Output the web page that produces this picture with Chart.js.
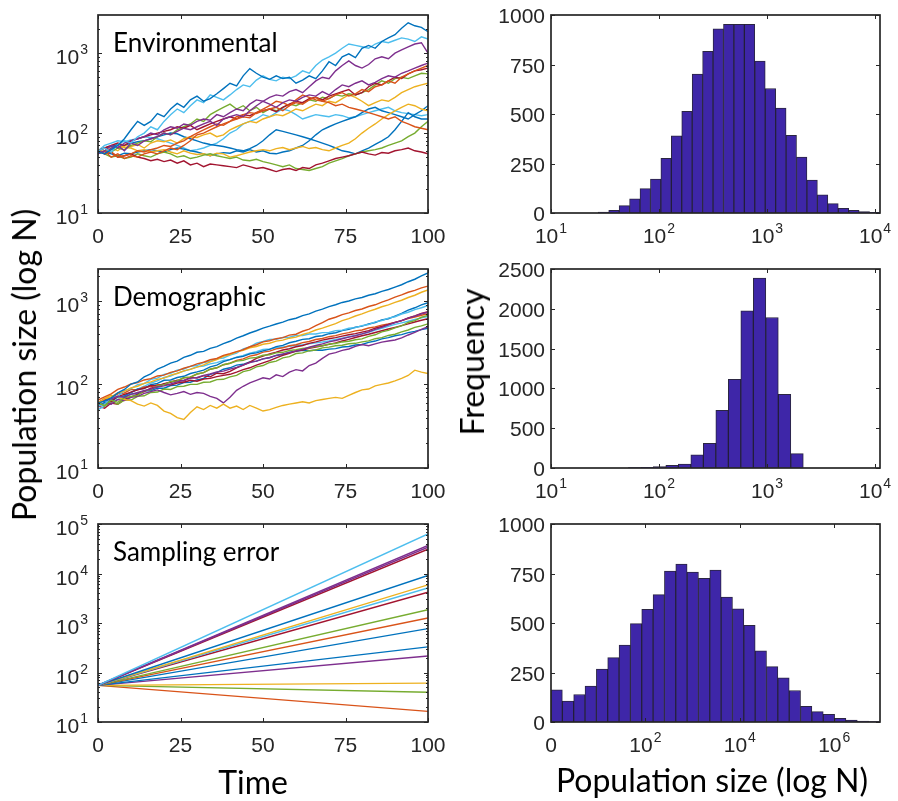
<!DOCTYPE html>
<html>
<head>
<meta charset="utf-8">
<script src="https://cdn.jsdelivr.net/npm/chart.js@4.4.1/dist/chart.umd.min.js"></script>
<style>
  html, body { margin: 0; padding: 0; background: #fff; }
  #fig { position: relative; width: 898px; height: 801px; overflow: hidden; }
  #fig canvas { position: absolute; }
  .lab { position: absolute; font-family: Lato, "Open Sans", sans-serif; font-size: 32px; color: #000;
         white-space: nowrap; line-height: 1; transform: translate(-50%, -50%); }
  .rot { transform: translate(-50%, -50%) rotate(-90deg); }
</style>
</head>
<body>
<div id="fig">
  <canvas id="env"  width="450" height="250" style="left:0;top:0"></canvas>
  <canvas id="demo" width="450" height="255" style="left:0;top:250px"></canvas>
  <canvas id="samp" width="450" height="260" style="left:0;top:505px"></canvas>
  <canvas id="hEnv"  width="438" height="250" style="left:460px;top:0"></canvas>
  <canvas id="hDemo" width="438" height="255" style="left:460px;top:250px"></canvas>
  <canvas id="hSamp" width="438" height="260" style="left:460px;top:505px"></canvas>
  <div class="lab rot" style="left:24px;top:365px">Population size (log N)</div>
  <div class="lab rot" style="left:472px;top:362px">Frequency</div>
  <div class="lab" style="left:253px;top:782px">Time</div>
  <div class="lab" style="left:712px;top:780px">Population size (log N)</div>
</div>
<script>
// ---------- data ----------
const timeSteps = [0,2,4,6,8,10,12,14,16,18,20,22,24,26,28,30,32,34,36,38,40,42,44,46,48,50,
  52,54,56,58,60,62,64,66,68,70,72,74,76,78,80,82,84,86,88,90,92,94,96,98,100];
const timeTicks = [0, 25, 50, 75, 100];
const timeTickLabels = ['0', '25', '50', '75', '100'];

// environmental stochasticity runs (N at each time step)
const envRuns = [
  [58,55,62,70,85,110,140,125,140,175,160,200,235,210,260,290,250,270,310,360,420,390,520,640,560,500,470,520,480,500,420,460,520,480,600,780,700,900,980,880,1150,1250,1150,1400,1550,1700,2050,2400,2200,2100,1850],
  [60,65,58,72,80,75,90,100,120,110,140,170,200,180,220,260,240,300,280,260,300,350,400,380,460,520,470,450,500,480,520,600,560,700,820,900,1000,1150,1300,1250,1200,1150,1300,1400,1350,1450,1550,1500,1400,1600,1500],
  [55,60,70,65,75,80,85,90,100,95,110,120,115,130,125,140,150,145,170,160,180,200,190,230,260,250,280,300,290,330,350,320,380,450,500,480,600,700,800,700,650,720,850,900,850,1000,1100,1200,1300,1350,1000],
  [60,55,65,70,60,75,70,80,85,90,100,95,105,115,110,120,130,140,125,150,160,170,160,190,220,250,230,210,240,260,250,280,300,290,330,300,350,400,380,420,450,400,430,480,520,500,560,600,650,700,750],
  [55,60,50,55,48,52,50,55,58,55,60,65,62,70,80,95,100,110,120,130,140,150,160,155,180,200,220,250,240,220,260,300,280,260,250,240,220,230,210,200,190,180,170,160,150,160,140,130,120,115,110],
  [60,55,58,50,52,55,60,58,62,65,70,68,75,80,90,100,110,120,130,125,140,160,170,180,175,190,200,210,190,220,240,230,260,280,250,270,300,320,290,310,350,330,380,400,450,420,500,550,600,650,700],
  [60,65,70,75,70,80,85,90,95,100,105,110,120,115,125,110,120,130,140,150,160,150,170,165,180,190,200,185,210,230,250,240,270,280,260,290,310,330,350,300,320,380,420,400,450,500,480,550,600,620,650],
  [60,55,58,50,52,55,50,48,45,47,44,46,42,45,40,42,38,41,40,39,38,37,40,38,36,37,35,33,35,36,34,37,36,40,42,45,48,50,52,55,58,55,53,57,56,60,62,65,60,58,55],
  [55,60,58,65,62,70,75,80,78,90,100,95,110,120,130,150,140,170,190,210,230,200,220,190,210,180,200,190,210,230,220,240,260,250,280,270,300,290,310,300,320,350,400,450,420,480,500,480,520,560,550],
  [60,55,50,52,48,50,55,52,50,55,58,55,50,52,48,50,53,55,52,50,48,50,46,45,47,44,42,40,38,40,36,35,34,36,38,42,45,48,52,55,58,60,62,65,70,75,80,90,100,120,140],
  [62,58,65,60,70,68,72,65,75,80,78,82,75,85,90,88,95,100,90,95,110,120,130,140,135,150,160,170,165,180,200,190,210,230,220,250,240,270,300,280,250,220,240,260,250,280,320,350,380,400,420],
  [60,65,62,70,66,65,60,62,58,60,62,58,55,60,56,54,55,52,56,55,50,52,55,58,60,62,60,64,66,62,65,68,64,66,62,60,65,70,75,85,100,115,130,150,170,190,210,230,220,200,190],
  [60,58,55,52,56,55,58,60,62,60,58,62,65,63,60,58,55,52,55,57,56,60,58,62,58,60,56,55,58,60,65,70,80,95,110,120,130,140,150,160,180,200,210,190,180,170,160,150,170,190,220],
  [60,65,68,72,70,75,78,80,85,90,95,100,98,90,85,80,75,72,70,68,65,62,60,64,70,80,95,110,105,100,95,90,85,80,75,70,65,60,58,55,60,65,72,80,90,110,140,180,160,150,150],
  [60,70,75,80,78,82,85,90,88,85,80,75,70,65,60,62,65,70,75,85,100,110,130,140,150,170,160,180,200,190,170,150,160,170,165,160,170,165,155,160,170,180,190,200,210,190,180,175,170,165,170]
];

// demographic stochasticity runs
const demoRuns = [
  [60,63,69,79,87,101,107,123,134,152,164,180,190,210,223,242,248,270,283,307,328,358,382,412,438,472,498,528,556,594,618,664,698,754,796,852,896,955,995,1055,1095,1165,1215,1295,1365,1455,1555,1690,1810,1990,2150],
  [65,71,77,87,93,101,105,113,117,126,129,139,145,156,164,176,184,197,204,222,233,247,260,282,298,322,333,352,363,388,398,432,458,503,548,602,636,684,716,765,798,855,896,965,1025,1105,1175,1265,1335,1425,1500],
  [60,67,71,79,83,91,95,103,107,115,119,129,135,145,151,161,171,186,198,217,228,245,255,274,284,302,311,329,339,357,368,395,416,447,470,502,532,578,612,658,698,748,792,848,892,955,1015,1095,1165,1265,1350],
  [60,64,67,72,70,76,80,84,88,93,96,101,107,112,118,121,128,133,141,144,152,160,170,182,190,202,210,222,232,240,252,262,278,292,305,322,335,352,368,382,402,425,455,480,515,548,580,620,655,700,730],
  [60,56,65,61,69,72,74,84,86,96,99,108,110,120,122,133,138,152,158,172,179,190,194,206,210,223,226,238,242,254,260,270,274,286,290,304,308,322,328,342,350,375,392,424,442,475,500,550,580,635,670],
  [55,58,69,72,84,89,99,102,115,119,132,136,148,153,165,168,183,188,203,207,224,236,266,281,312,326,345,346,364,366,384,384,400,400,416,418,440,446,470,478,505,520,560,580,620,645,695,730,785,825,880],
  [60,66,62,72,76,81,86,90,97,96,102,106,112,110,122,119,127,123,136,134,143,158,170,185,205,218,232,243,258,267,282,292,310,322,338,352,362,378,392,405,422,440,470,492,520,552,580,625,660,705,740],
  [55,61,63,71,73,80,88,89,99,103,112,113,121,125,135,141,148,162,170,187,198,210,216,232,238,252,262,283,293,315,328,345,352,374,382,404,415,440,455,482,498,528,550,590,610,655,705,775,825,895,950],
  [60,67,69,77,79,87,86,93,94,99,100,108,110,120,122,133,138,152,158,172,179,194,202,218,226,243,250,266,274,290,298,316,326,344,354,372,383,402,416,436,448,472,488,512,528,552,578,612,638,672,700],
  [60,68,74,70,66,64,58,55,60,56,48,45,40,38,46,54,50,56,52,58,52,55,50,56,52,48,50,53,56,58,60,62,60,64,66,68,70,68,74,80,86,88,96,100,104,110,118,128,148,140,135],
  [55,60,58,66,64,70,72,78,82,86,80,75,78,82,76,80,78,72,68,60,70,85,95,104,112,120,116,130,124,140,150,145,168,180,205,230,240,255,265,285,300,290,305,320,330,340,360,390,420,455,490],
  [60,55,63,58,65,65,72,73,80,81,88,87,94,95,100,100,106,107,114,115,123,128,142,148,162,168,183,190,208,215,234,238,253,258,273,279,290,294,306,310,323,332,352,362,385,398,425,447,480,502,530],
  [50,55,62,66,74,79,88,95,104,110,121,126,136,144,152,162,166,176,182,194,199,212,222,236,246,262,266,274,280,286,292,298,306,314,322,332,344,358,372,386,402,420,446,470,496,522,545,570,598,625,650],
  [55,52,60,58,66,71,76,82,90,94,101,98,104,106,112,109,116,118,124,128,132,140,150,158,170,181,192,208,222,236,251,258,270,280,290,301,314,330,346,364,382,398,418,438,460,481,505,530,558,585,610],
  [60,64,65,71,71,77,77,84,84,90,90,97,98,105,106,113,118,132,138,152,158,170,174,186,190,202,208,222,228,242,248,255,252,258,256,264,268,280,284,296,300,318,330,350,362,382,394,416,430,452,470]
];

// sampling error: straight exponential runs from a common start
const samplingTimes = [0, 100];
const samplingStart = 55;
const samplingEnd = [63000, 37000, 34000, 31000, 9100, 5900, 5100, 4200, 1860, 1260, 770, 330, 215, 61, 40, 16.4];

// histograms: bin centres in log10(N), counts
const hEnvBins = [1.4860,1.5826,1.6792,1.7758,1.8724,1.9690,2.0656,2.1622,2.2588,2.3554,2.4520,2.5486,2.6452,
  2.7418,2.8384,2.9350,3.0316,3.1282,3.2248,3.3214,3.4180,3.5146,3.6112,3.7078,3.8044,3.9010,3.9976];
const hEnvCounts = [5,13,37,71,123,171,276,390,514,701,817,930,953,953,953,767,629,530,392,282,166,92,47,24,13,7,3];
const hDemoBins = [1.7739,1.8896,2.0053,2.1210,2.2367,2.3524,2.4681,2.5838,2.6995,2.8152,2.9309,3.0466,3.1623,3.2780];
const hDemoCounts = [4,8,17,34,50,164,311,723,1113,1975,2387,1891,924,181];
const hSampBins = [0.1202,0.3605,0.6008,0.8411,1.0814,1.3217,1.5620,1.8023,2.0426,2.2829,2.5232,2.7635,3.0038,
  3.2441,3.4844,3.7247,3.9650,4.2053,4.4456,4.6859,4.9262,5.1665,5.4068,5.6471,5.8874,6.1277,6.3680,6.6083,6.8486];
const hSampCounts = [163,106,139,181,267,325,388,497,569,643,762,797,757,725,767,631,572,488,359,280,223,159,79,52,39,18,10,5,2];

// tick values / labels
const logTicks = [10, 100, 1000];
const logTickLabels = ['10^1', '10^2', '10^3'];
const logTicksWide = [10, 100, 1000, 10000, 100000];
const logTickLabelsWide = ['10^1', '10^2', '10^3', '10^4', '10^5'];
const sizeTicks = [1, 2, 3, 4];
const sizeTickLabels = ['10^1', '10^2', '10^3', '10^4'];
const sizeTicksWide = [0, 2, 4, 6];
const sizeTickLabelsWide = ['0', '10^2', '10^4', '10^6'];
const freqTicks = [0, 250, 500, 750, 1000];
const freqTicksDemo = [0, 500, 1000, 1500, 2000, 2500];

// ---------- styling ----------
const C = { blue: '#0072BD', orange: '#D95319', yellow: '#EDB120', purple: '#7E2F8E',
            green: '#77AC30', cyan: '#4DBEEE', red: '#A2142F' };
const envColors = [C.blue, C.cyan, C.purple, C.purple, C.orange, C.orange, C.red, C.red,
                   C.green, C.green, C.yellow, C.yellow, C.blue, C.blue, C.cyan];
const demoColors = [C.blue, C.orange, C.yellow, C.purple, C.green, C.cyan, C.red,
                    C.blue, C.orange, C.yellow, C.purple, C.green, C.cyan, C.red, C.blue];
const sampColors = [C.cyan, C.purple, C.purple, C.red, C.blue, C.yellow, C.cyan, C.red,
                    C.green, C.orange, C.blue, C.blue, C.purple, C.yellow, C.green, C.orange];
const INK = '#262626';
const BAR = '#3E26A8';
const TICK_PX = 21, EXP_PX = 14;
const TICK_FONT = 'Arial, "Liberation Sans", sans-serif';

function minorLog(min, max) {
  const out = [];
  for (let d = 10; d <= 1e6; d *= 10)
    for (let k = 2; k <= 9; k++) if (k * d > min && k * d < max) out.push(k * d);
  return out;
}

// draws "10^3" as 10 with a raised exponent
function tickText(ctx, txt, x, y, align) {
  const [base, exp] = txt.split('^');
  ctx.font = TICK_PX + 'px ' + TICK_FONT;
  const wb = ctx.measureText(base).width;
  let we = 0;
  if (exp) { ctx.font = EXP_PX + 'px ' + TICK_FONT; we = ctx.measureText(exp).width + 1; }
  const x0 = align === 'center' ? x - (wb + we) / 2 : x - wb - we;
  ctx.textAlign = 'left';
  ctx.textBaseline = 'alphabetic';
  ctx.font = TICK_PX + 'px ' + TICK_FONT;
  ctx.fillText(base, x0, y);
  if (exp) { ctx.font = EXP_PX + 'px ' + TICK_FONT; ctx.fillText(exp, x0 + wb + 1, y - 10); }
}

// matlab-like box: inside ticks on all sides, labels, panel note
function boxAxes(spec) {
  return {
    id: 'boxAxes',
    afterDatasetsDraw(chart) {
      const { ctx, chartArea: a, scales: { x, y } } = chart;
      ctx.save();
      ctx.strokeStyle = INK;
      ctx.fillStyle = INK;
      ctx.lineWidth = 1;
      ctx.beginPath();
      spec.xTicks.forEach(v => {
        const p = Math.round(x.getPixelForValue(v)) + 0.5;
        ctx.moveTo(p, a.bottom); ctx.lineTo(p, a.bottom - 4);
        ctx.moveTo(p, a.top); ctx.lineTo(p, a.top + 4);
      });
      spec.yTicks.forEach(v => {
        const p = Math.round(y.getPixelForValue(v)) + 0.5;
        ctx.moveTo(a.left, p); ctx.lineTo(a.left + 4, p);
        ctx.moveTo(a.right, p); ctx.lineTo(a.right - 4, p);
      });
      (spec.yMinor || []).forEach(v => {
        const p = Math.round(y.getPixelForValue(v)) + 0.5;
        ctx.moveTo(a.left, p); ctx.lineTo(a.left + 2, p);
        ctx.moveTo(a.right, p); ctx.lineTo(a.right - 2, p);
      });
      ctx.stroke();
      ctx.lineWidth = 1.7;
      ctx.strokeRect(a.left, a.top, a.right - a.left, a.bottom - a.top);

      spec.xTicks.forEach((v, i) =>
        tickText(ctx, spec.xLabels[i], x.getPixelForValue(v), a.bottom + 30, 'center'));
      spec.yTicks.forEach((v, i) => {
        const lab = spec.yLabels[i];
        const off = lab.includes('^') ? 11 : 8;
        tickText(ctx, lab, a.left - (lab.includes('^') ? 10 : 6), y.getPixelForValue(v) + off, 'right');
      });
      if (spec.note) {
        ctx.fillStyle = '#000';
        ctx.font = '26px Lato, "Open Sans", sans-serif';
        ctx.textAlign = 'left';
        ctx.fillText(spec.note, a.left + 15, a.top + 37);
      }
      ctx.restore();
    }
  };
}

const hidden = { grid: { display: false }, border: { display: false }, ticks: { display: false } };

function runChart(id, times, runs, colors, yMax, padTop, xH, spec) {
  new Chart(document.getElementById(id), {
    type: 'line',
    data: {
      datasets: runs.map((r, i) => ({
        data: r.map((v, j) => ({ x: times[j], y: v })),
        borderColor: colors[i], borderWidth: 1.4, pointRadius: 0, tension: 0, fill: false
      }))
    },
    options: {
      responsive: false, animation: false, events: [],
      layout: { padding: { top: padTop, right: 22, left: 0, bottom: 0 } },
      plugins: { legend: { display: false }, tooltip: { enabled: false } },
      scales: {
        x: { ...hidden, type: 'linear', min: 0, max: 100, afterFit: s => { s.height = xH; } },
        y: { ...hidden, type: 'logarithmic', min: 10, max: yMax, afterFit: s => { s.width = 98; } }
      }
    },
    plugins: [boxAxes(spec)]
  });
}

function histChart(id, bins, counts, xMin, xMax, yMax, padTop, xH, spec) {
  new Chart(document.getElementById(id), {
    type: 'bar',
    data: {
      datasets: [{
        data: bins.map((b, i) => ({ x: b, y: counts[i] })),
        backgroundColor: BAR, borderColor: 'rgba(20,14,45,0.9)', borderWidth: 1,
        barPercentage: 1, categoryPercentage: 1
      }]
    },
    options: {
      responsive: false, animation: false, events: [],
      layout: { padding: { top: padTop, right: 18, left: 0, bottom: 0 } },
      plugins: { legend: { display: false }, tooltip: { enabled: false } },
      scales: {
        x: { ...hidden, type: 'linear', offset: false, min: xMin, max: xMax, afterFit: s => { s.height = xH; } },
        y: { ...hidden, type: 'linear', min: 0, max: yMax, afterFit: s => { s.width = 91; } }
      }
    },
    plugins: [boxAxes(spec)]
  });
}

runChart('env', timeSteps, envRuns, envColors, 3000, 15, 37, {
  xTicks: timeTicks, xLabels: timeTickLabels, yTicks: logTicks, yLabels: logTickLabels,
  yMinor: minorLog(10, 3000), note: 'Environmental'
});
runChart('demo', timeSteps, demoRuns, demoColors, 2400, 19, 37, {
  xTicks: timeTicks, xLabels: timeTickLabels, yTicks: logTicks, yLabels: logTickLabels,
  yMinor: minorLog(10, 2400), note: 'Demographic'
});
runChart('samp', samplingTimes, samplingEnd.map(e => [samplingStart, e]), sampColors, 100000, 19, 43, {
  xTicks: timeTicks, xLabels: timeTickLabels, yTicks: logTicksWide, yLabels: logTickLabelsWide,
  yMinor: minorLog(10, 100000), note: 'Sampling error'
});

histChart('hEnv', hEnvBins, hEnvCounts, 1, 4.046, 1000, 15, 37, {
  xTicks: sizeTicks, xLabels: sizeTickLabels, yTicks: freqTicks, yLabels: freqTicks.map(String)
});
histChart('hDemo', hDemoBins, hDemoCounts, 1, 4.046, 2500, 19, 37, {
  xTicks: sizeTicks, xLabels: sizeTickLabels, yTicks: freqTicksDemo, yLabels: freqTicksDemo.map(String)
});
histChart('hSamp', hSampBins, hSampCounts, 0, 6.97, 1000, 19, 43, {
  xTicks: sizeTicksWide, xLabels: sizeTickLabelsWide, yTicks: freqTicks, yLabels: freqTicks.map(String)
});
</script>
</body>
</html>
